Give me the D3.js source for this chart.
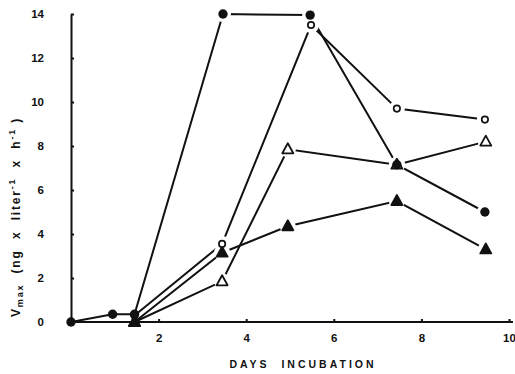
<!DOCTYPE html>
<html lang="en">
<head>
  <meta charset="UTF-8">
  <title>Vmax vs days incubation</title>
  <script src="https://d3js.org/d3.v7.min.js"></script>
  <style>
    body { margin: 0; padding: 0; background: #fff; }
    svg { display: block; }
    text { font-family: "Liberation Sans", Arial, sans-serif; font-weight: bold; fill: #111; white-space: pre; }
  </style>
</head>
<body>
<svg width="515" height="374"></svg>
<script>
  // data
  const xTicks = [2, 4, 6, 8, 10];
  const yTicks = [0, 2, 4, 6, 8, 10, 12, 14];

  const filledCircle = [[0, 0], [0.95, 0.35], [1.45, 0.35], [3.47, 14.0], [5.46, 13.95], [7.44, 7.15], [9.45, 5.0]];
  const openCircle   = [[1.45, 0.3], [3.45, 3.55], [5.48, 13.5], [7.44, 9.7], [9.45, 9.2]];
  const openTri      = [[1.45, 0], [3.45, 1.85], [4.95, 7.85], [7.44, 7.15], [9.47, 8.2]];
  const filledTri    = [[1.45, 0], [3.45, 3.15], [4.95, 4.35], [7.44, 5.5], [9.47, 3.3]];

  const series = [
    { name: 'openTri', pts: openTri, shape: 'tri', fill: false },
    { name: 'filledTri', pts: filledTri, shape: 'tri', fill: true },
    { name: 'openCircle', pts: openCircle, shape: 'circle', fill: false },
    { name: 'filledCircle', pts: filledCircle, shape: 'circle', fill: true }
  ];

  const svg = d3.select('svg');
  const x = d3.scaleLinear().domain([0, 10]).range([71, 509]);
  const y = d3.scaleLinear().domain([0, 14]).range([322, 14]);

  // axes (ticks pointing inward)
  const xAxis = svg.append('g').attr('transform', `translate(0,${y(0)})`)
    .call(d3.axisBottom(x).tickValues(xTicks).tickSizeInner(-3).tickSizeOuter(0).tickPadding(12));
  xAxis.select('.domain').attr('d', `M${x(0)},0H513`);
  const yAxis = svg.append('g').attr('transform', `translate(${x(0)},0)`)
    .call(d3.axisLeft(y).tickValues(yTicks).tickSizeInner(-3).tickSizeOuter(0).tickPadding(27));
  svg.selectAll('.domain').attr('stroke', '#111').attr('stroke-width', 2);
  svg.selectAll('.tick line').attr('stroke', '#111').attr('stroke-width', 2);
  svg.selectAll('.tick text').attr('font-size', 11.5).attr('font-family', '"Liberation Sans", Arial, sans-serif').attr('font-weight', 'bold');
  xAxis.selectAll('.tick text').attr('dy', '0.71em');

  // lines
  const line = d3.line().x(d => x(d[0])).y(d => y(d[1]));
  svg.append('g').selectAll('path').data(series).join('path')
    .attr('d', d => line(d.pts))
    .attr('fill', 'none').attr('stroke', '#111').attr('stroke-width', 2);

  // white halos to break lines at markers
  const allPts = series.flatMap(s => s.pts.map(p => ({ p, s })));
  svg.append('g').selectAll('circle').data(allPts.filter(d => d.p[0] > 2)).join('circle')
    .attr('cx', d => x(d.p[0])).attr('cy', d => y(d.p[1]))
    .attr('r', 8).attr('fill', '#fff');

  // markers
  const triPath = 'M0,-6L5.5,4L-5.5,4Z';
  series.forEach(s => {
    const g = svg.append('g');
    if (s.shape === 'circle') {
      g.selectAll('circle').data(s.pts).join('circle')
        .attr('cx', d => x(d[0])).attr('cy', d => y(d[1]))
        .attr('r', s.fill ? 4.7 : 3.2)
        .attr('fill', s.fill ? '#111' : '#fff')
        .attr('stroke', '#111').attr('stroke-width', s.fill ? 0 : 1.7);
    } else {
      g.selectAll('path').data(s.pts).join('path')
        .attr('transform', d => `translate(${x(d[0])},${y(d[1])})`)
        .attr('d', triPath)
        .attr('fill', s.fill ? '#111' : '#fff')
        .attr('stroke', '#111').attr('stroke-width', 1.8).attr('stroke-linejoin', 'round');
    }
  });

  // axis titles
  svg.append('text')
    .attr('x', 303).attr('y', 368)
    .attr('text-anchor', 'middle').attr('font-size', 10.5).attr('letter-spacing', 3)
    .text('DAYS  INCUBATION');

  const yl = svg.append('text')
    .attr('transform', 'translate(20,217) rotate(-90)')
    .attr('text-anchor', 'middle').attr('font-size', 12).attr('letter-spacing', 1.8);
  yl.append('tspan').text('V');
  yl.append('tspan').attr('font-size', 9).attr('dy', 3).text('max');
  yl.append('tspan').attr('dy', -3).text('  (ng  x  liter');
  yl.append('tspan').attr('font-size', 9).attr('dy', -5).text('-1');
  yl.append('tspan').attr('dy', 5).text('  x  h');
  yl.append('tspan').attr('font-size', 9).attr('dy', -5).text('-1');
  yl.append('tspan').attr('dy', 5).text(' )');
</script>
</body>
</html>
